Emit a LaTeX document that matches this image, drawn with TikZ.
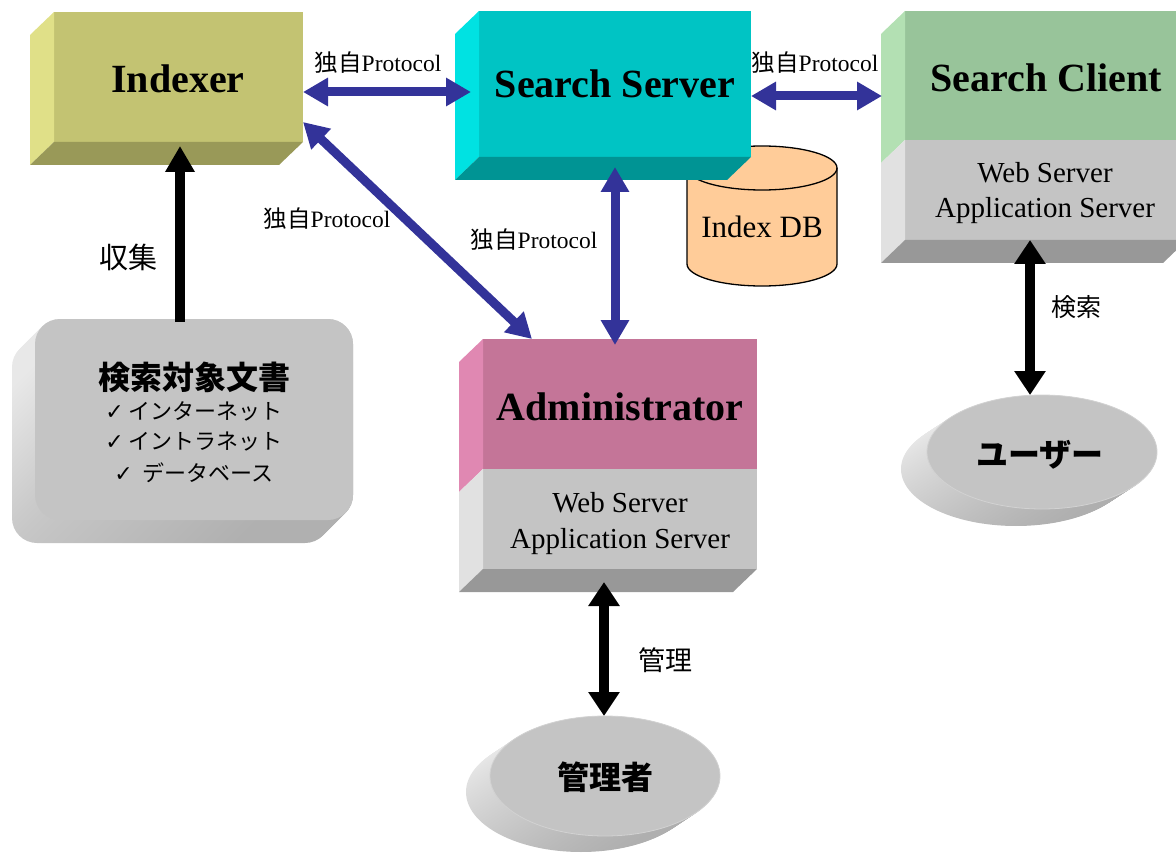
\documentclass[tikz,border=0pt]{standalone}
\usepackage{fontspec}
\setmainfont{Liberation Serif}
\newfontfamily\cjk{Noto Sans CJK JP}
\newfontfamily\dejavu{DejaVu Sans}
\usetikzlibrary{arrows.meta,shapes.geometric}
\definecolor{idxF}{HTML}{C3C372}
\definecolor{idxL}{HTML}{E0E088}
\definecolor{idxB}{HTML}{999958}
\definecolor{ssF}{HTML}{00C4C4}
\definecolor{ssL}{HTML}{00E2E2}
\definecolor{ssB}{HTML}{009494}
\definecolor{scF}{HTML}{98C49A}
\definecolor{scL}{HTML}{B3E0B3}
\definecolor{admF}{HTML}{C47598}
\definecolor{admL}{HTML}{E088B2}
\definecolor{gF}{HTML}{C4C4C4}
\definecolor{gL}{HTML}{E1E1E1}
\definecolor{gB}{HTML}{989898}
\definecolor{dbF}{HTML}{FFCC99}
\definecolor{arrBlue}{HTML}{333399}
\newcommand\leftface[2]{\fill[#2] (#1.north west) -- ++(-24,23) -- ([shift={(-24,23)}]#1.south west) -- (#1.south west) -- cycle;}
\newcommand\bottomface[2]{\fill[#2] (#1.south west) -- (#1.south east) -- ([shift={(-24,23)}]#1.south east) -- ([shift={(-24,23)}]#1.south west) -- cycle;}
\begin{document}
\begin{tikzpicture}[x=1pt,y=-1pt,
  face/.style={draw=none, inner sep=0pt, outer sep=0pt},
  title/.style={font=\bfseries\fontsize{40}{44}\selectfont, anchor=base, inner sep=0pt},
  sub/.style={font=\fontsize{29}{34}\selectfont, anchor=base, inner sep=0pt},
  proto/.style={font=\fontsize{23.5}{26}\selectfont, anchor=base, inner sep=0pt},
  jlabel/.style={font=\cjk\fontsize{#1}{#1}\selectfont, inner sep=0pt},
  jlabel/.default=26,
  bluearrow/.style={draw=arrBlue, line width=9pt,
    {Triangle[length=25pt,width=27pt]}-{Triangle[length=25pt,width=27pt]}},
  blackarrow/.style={draw=black, line width=10pt,
    {Triangle[length=24pt,width=30pt]}-{Triangle[length=24pt,width=30pt]}},
  blackarrowone/.style={draw=black, line width=10pt, -{Triangle[length=26pt,width=28pt]}},
]
\useasboundingbox (0,0) rectangle (1176,853);

% ---------- document box with extrusion ----------
\foreach \i in {0,...,23}{
  \shade[rounded corners=25pt, top color=gray!18, bottom color=gray!62, shading angle=25]
    (35-23+\i,319+23-\i) rectangle (353-23+\i,520+23-\i);
}
\node[face, fill=gF, rounded corners=25pt, minimum width=318pt, minimum height=201pt] (doc) at (194,419.5) {};
\node[jlabel=32, font=\cjk\bfseries\fontsize{32}{32}\selectfont] (doct) at (194,377) {検索対象文書};
\node[jlabel=22] (doc1) at (194,411) {{\dejavu ✓} インターネット};
\node[jlabel=22] (doc2) at (194,442) {{\dejavu ✓} イントラネット};
\node[jlabel=22] (doc3) at (194,473) {{\dejavu ✓}\ \ データベース};

% ---------- disks ----------
\foreach \i in {0,...,26}{
  \shade[top color=gray!15, bottom color=gray!65, shading angle=20]
    (1042-26+\i,452+17-\i*17/26) ellipse [x radius=115pt, y radius=57pt];
}
\node[face, ellipse, fill=gF, draw=gray!35, line width=0.8pt, minimum width=230pt, minimum height=114pt] (user) at (1042,452) {};
\node[jlabel=32, font=\cjk\bfseries\fontsize{32}{32}\selectfont] (usert) at (1040,455) {ユーザー};

\foreach \i in {0,...,24}{
  \shade[top color=gray!15, bottom color=gray!65, shading angle=20]
    (605-24+\i,776+16-\i*16/24) ellipse [x radius=115pt, y radius=60pt];
}
\node[face, ellipse, fill=gF, draw=gray!35, line width=0.8pt, minimum width=230pt, minimum height=120pt] (mgr) at (605,776) {};
\node[jlabel=32, font=\cjk\bfseries\fontsize{32}{32}\selectfont] (mgrt) at (605,777) {管理者};

% ---------- Index DB cylinder ----------
\filldraw[fill=dbF, draw=black, line width=1.3pt]
  (687,168) -- (687,264) arc[start angle=180, end angle=360, x radius=75pt, y radius=22pt]
  -- (837,168) arc[start angle=0, end angle=180, x radius=75pt, y radius=22pt] -- cycle;
\draw[line width=1.3pt] (687,168) arc[start angle=180, end angle=360, x radius=75pt, y radius=22pt];
\node[sub, font=\fontsize{31}{34}\selectfont] (dbt) at (762,238) {Index DB};

% ---------- Indexer ----------
\node[face, fill=idxF, minimum width=249pt, minimum height=130pt] (idx) at (178.5,77) {};
\leftface{idx}{idxL}
\bottomface{idx}{idxB}
\node[title] (idxt) at (178,93) {Indexer};

% ---------- Search Server ----------
\node[face, fill=ssF, minimum width=272pt, minimum height=146pt] (ss) at (615,84) {};
\leftface{ss}{ssL}
\bottomface{ss}{ssB}
\node[title] (sst) at (615,98) {Search Server};

% ---------- Search Client ----------
\node[face, fill=scF, minimum width=282pt, minimum height=129pt] (sc) at (1046,75.5) {};
\node[face, fill=gF, minimum width=282pt, minimum height=100pt] (scg) at (1046,190) {};
\leftface{sc}{scL}
\leftface{scg}{gL}
\bottomface{scg}{gB}
\node[title] (sct) at (1046,92) {Search Client};
\node[sub] (scw) at (1045,183) {Web Server};
\node[sub] (sca) at (1045,218) {Application Server};

% ---------- Administrator ----------
\node[face, fill=admF, minimum width=274pt, minimum height=130pt] (adm) at (620,404) {};
\node[face, fill=gF, minimum width=274pt, minimum height=100pt] (admg) at (620,519) {};
\leftface{adm}{admL}
\leftface{admg}{gL}
\bottomface{admg}{gB}
\node[title] (admt) at (620,420) {Administrator};
\node[sub] (admw) at (620,512) {Web Server};
\node[sub] (adma) at (620,548) {Application Server};

% ---------- connectors ----------
\draw[bluearrow] ([yshift=-15pt]idx.east) -- ([xshift=-8pt,yshift=-8pt]ss.west);
\draw[bluearrow] ([yshift=-12pt]ss.east) -- ([xshift=-23pt,yshift=-20.5pt]sc.west);
\draw[bluearrow] ([yshift=20pt]idx.south east) -- ([xshift=49pt]adm.north west);
\draw[bluearrow] ([yshift=-10pt]ss.south) -- ([xshift=-5pt,yshift=-6pt]adm.north);
\draw[blackarrowone] ([xshift=-14pt,yshift=-3pt]doc.north) -- ([xshift=1.5pt,yshift=-4pt]idx.south);
\draw[blackarrow] ([xshift=-16pt]scg.south) -- ([xshift=-12pt]user.north);
\draw[blackarrow] ([xshift=-16pt,yshift=-13pt]admg.south) -- ([xshift=-1pt]mgr.north);

% ---------- labels ----------
\node[proto] (p1) at (378,72) {{\cjk 独自}Protocol};
\node[proto] (p2) at (815,72) {{\cjk 独自}Protocol};
\node[proto] (p3) at (327,228) {{\cjk 独自}Protocol};
\node[proto] (p4) at (534,249) {{\cjk 独自}Protocol};
\node[jlabel=29] (l1) at (128,257) {収集};
\node[jlabel=25] (l2) at (1076,307) {検索};
\node[jlabel=27] (l3) at (665,660) {管理};
\end{tikzpicture}
\end{document}
